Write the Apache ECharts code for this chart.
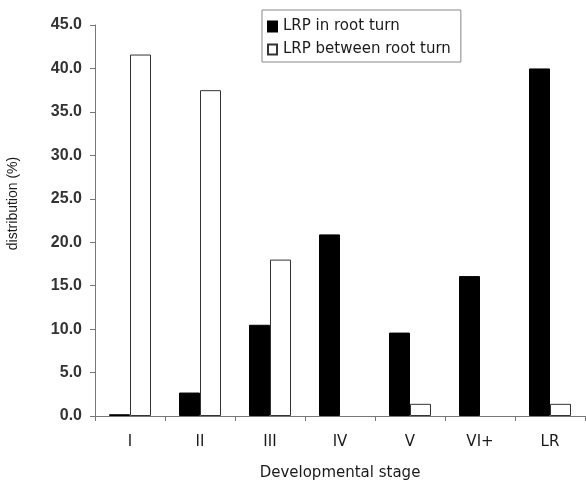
<!DOCTYPE html>
<html><head><meta charset="utf-8">
<script src="https://cdn.jsdelivr.net/npm/echarts@6/dist/echarts.min.js"></script>
<style>html,body{margin:0;padding:0;background:#fff}#c{width:586px;height:482px}</style>
</head><body><div id="c"></div>
<script>
var categories = ['I','II','III','IV','V','VI+','LR'];
var inRootTurn = [0.2, 2.7, 10.5, 20.9, 9.6, 16.1, 40.0];
var betweenRootTurn = [41.6, 37.5, 18.0, null, 1.4, null, 1.4];
var seriesNames = ['LRP in root turn', 'LRP between root turn'];

var chart = echarts.init(document.getElementById('c'), null, {renderer:'canvas'});
var font = 'DejaVu Sans, Verdana, sans-serif';
var txt = '#1a1a1a';
chart.setOption({
  animation: false,
  backgroundColor: '#fff',
  textStyle: {fontFamily: font},
  grid: {left: 95, right: 1, top: 25, bottom: 66, outerBoundsMode: 'none', containLabel: false},
  legend: {
    orient: 'vertical', left: 262, top: 10,
    padding: [9, 10, 5, 5], itemGap: 8,
    borderColor: '#888', borderWidth: 1,
    icon: 'rect', itemWidth: 9, itemHeight: 10,
    textStyle: {fontSize: 15, color: txt, fontFamily: font, padding: [0,0,0,1]},
    data: seriesNames
  },
  xAxis: {
    type: 'category', data: categories,
    name: 'Developmental stage', nameLocation: 'middle', nameGap: 50,
    nameTextStyle: {fontSize: 15, color: txt},
    axisLine: {lineStyle: {color: '#777'}},
    axisTick: {show: true, length: 5, lineStyle: {color: '#777'}},
    axisLabel: {fontSize: 15, color: txt, margin: 19}
  },
  yAxis: {
    type: 'value', min: 0, max: 45, interval: 5,
    name: 'distribution (%)', nameLocation: 'middle', nameGap: 75,
    nameTextStyle: {fontSize: 14, color: txt, fontFamily: 'Liberation Sans, Arial, sans-serif', padding: [0, 0, 0, 34]},
    axisLine: {show: true, lineStyle: {color: '#777'}},
    axisTick: {show: true, length: 5, lineStyle: {color: '#777'}},
    splitLine: {show: false},
    axisLabel: {fontSize: 16, color: '#333', margin: 13, fontWeight: 'bold',
      fontFamily: 'Liberation Sans, Arial, sans-serif',
      formatter: function(v){return v.toFixed(1);}}
  },
  series: [
    {name: seriesNames[0], type: 'bar', data: inRootTurn, barGap: '0%', barCategoryGap: '40%',
     itemStyle: {color: '#000', borderColor: '#000', borderWidth: 1}},
    {name: seriesNames[1], type: 'bar', data: betweenRootTurn,
     itemStyle: {color: '#fff', borderColor: '#333', borderWidth: 1}}
  ]
});
</script></body></html>
